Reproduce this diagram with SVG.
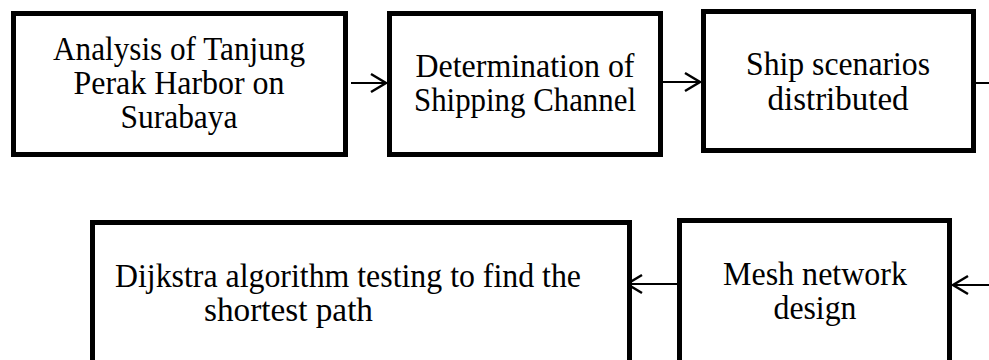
<svg xmlns="http://www.w3.org/2000/svg" width="989" height="360" viewBox="0 0 989 360">
<defs>
<style>
.box{fill:#fff;stroke:#000;stroke-width:5}
.t{font-family:"Liberation Serif","Times New Roman",serif;font-size:33px;fill:#000}
.c{text-anchor:middle}
.con{fill:none;stroke:#000;stroke-width:2.2}
</style>
<marker id="ah" markerUnits="userSpaceOnUse" viewBox="-17 -11 19 22" refX="0" refY="0" markerWidth="19" markerHeight="22" orient="auto" overflow="visible">
<path d="M-15,-9 L0,0 L-15,9" fill="none" stroke="#000" stroke-width="2.5"/>
</marker>
</defs>
<rect width="989" height="360" fill="#fff"/>
<g id="connectors">
<line class="con" x1="351" y1="83" x2="386" y2="83" marker-end="url(#ah)"/>
<line class="con" x1="663" y1="82" x2="700" y2="82" marker-end="url(#ah)"/>
<path class="con" d="M976,83 H1000 V285 H953" marker-end="url(#ah)"/>
<line class="con" x1="677" y1="284" x2="627" y2="284" marker-end="url(#ah)"/>
</g>
<g id="n1">
<rect class="box" x="13.5" y="13.5" width="332" height="141"/>
<text class="t c" x="179" y="60" textLength="252" lengthAdjust="spacingAndGlyphs">Analysis of Tanjung</text>
<text class="t c" x="179" y="94" textLength="211" lengthAdjust="spacingAndGlyphs">Perak Harbor on</text>
<text class="t c" x="179" y="128" textLength="117" lengthAdjust="spacingAndGlyphs">Surabaya</text>
</g>
<g id="n2">
<rect class="box" x="389.5" y="13.5" width="271" height="141"/>
<text class="t c" x="525" y="77" textLength="219" lengthAdjust="spacingAndGlyphs">Determination of</text>
<text class="t c" x="525" y="111" textLength="222" lengthAdjust="spacingAndGlyphs">Shipping Channel</text>
</g>
<g id="n3">
<rect class="box" x="703.5" y="11.5" width="270" height="139"/>
<text class="t c" x="838" y="75" textLength="184" lengthAdjust="spacingAndGlyphs">Ship scenarios</text>
<text class="t c" x="838" y="110" textLength="141" lengthAdjust="spacingAndGlyphs">distributed</text>
</g>
<g id="n4">
<rect class="box" x="92.5" y="222.5" width="537" height="160"/>
<text class="t" x="115" y="287" textLength="466" lengthAdjust="spacingAndGlyphs">Dijkstra algorithm testing to find the</text>
<text class="t" x="204" y="321" textLength="169" lengthAdjust="spacingAndGlyphs">shortest path</text>
</g>
<g id="n5">
<rect class="box" x="679.5" y="220.5" width="270" height="160"/>
<text class="t c" x="815" y="285" textLength="184" lengthAdjust="spacingAndGlyphs">Mesh network</text>
<text class="t c" x="815" y="319" textLength="83" lengthAdjust="spacingAndGlyphs">design</text>
</g>
</svg>
